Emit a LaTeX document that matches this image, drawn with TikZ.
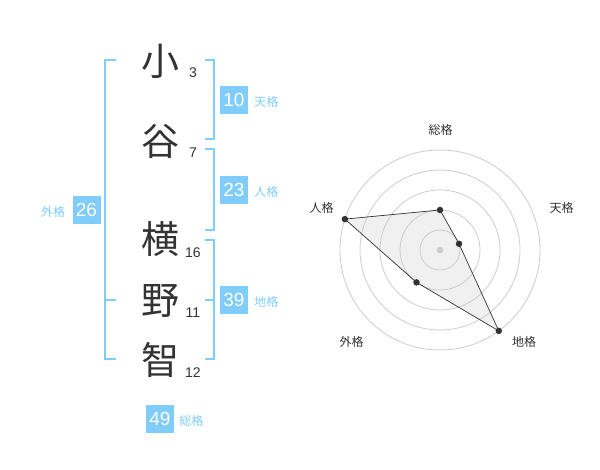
\documentclass[tikz,border=0pt]{standalone}
\usepackage{fontspec}
\setmainfont{Liberation Sans}
\newfontfamily\jpfont{Noto Sans CJK JP}
\usetikzlibrary{positioning}
\definecolor{kakublue}{HTML}{80CCFA}
\definecolor{inkgray}{HTML}{333333}
\definecolor{ringgray}{HTML}{CCCCCC}
\definecolor{areagray}{HTML}{F0F0F0}

\begin{document}
\begin{tikzpicture}[x=1pt, y=-1pt]
  \tikzset{
    kanji/.style={inner sep=0pt, text=inkgray, font=\jpfont\fontsize{38}{38}\selectfont},
    strokes/.style={inner sep=0pt, text=inkgray, font=\fontsize{14}{14}\selectfont},
    score/.style={fill=kakublue, text=white, minimum size=28pt, inner sep=0pt, font=\fontsize{19}{19}\selectfont},
    kaku/.style={inner sep=0pt, text=kakublue, font=\jpfont\fontsize{12}{12}\selectfont},
    bracket/.style={draw=kakublue, line width=2pt, line join=miter},
    ring/.style={draw=ringgray, line width=0.8pt},
    axis/.style={inner sep=0pt, text=inkgray, font=\jpfont\fontsize{12}{12}\selectfont},
    dot/.style={circle, fill=inkgray, inner sep=0pt, minimum size=6.5pt}
  }
  \useasboundingbox (0,0) rectangle (600,470);
  % name and strokes
  \foreach \ch/\y/\n/\ny/\nm in {小/61/3/72.7/a, 谷/141/7/152.7/b, 横/239/16/252.3/c, 野/301/11/312.7/d, 智/360/12/372.7/e} {
    \node[kanji] (k\nm) at (160,\y) {\ch};
    \node[strokes] (s\nm) at (193,\ny) {\n};
  }
  % brackets
  \draw[bracket] (116,60) -- (105,60) -- (105,359) -- (116,359);
  \draw[bracket] (105,300) -- (116,300);
  \draw[bracket] (205,60) -- (214,60) -- (214,139) -- (205,139);
  \draw[bracket] (205,149) -- (214,149) -- (214,230) -- (205,230);
  \draw[bracket] (205,240) -- (214,240) -- (214,359) -- (205,359);
  \draw[bracket] (205,300) -- (214,300);
  % scores
  \node[score] (ten) at (234,100) {10};
  \node[kaku, anchor=base west] (tenl) at ([xshift=6pt]ten.base east) {天格};
  \node[score] (jin) at (234,190) {23};
  \node[kaku, anchor=base west] (jinl) at ([xshift=6pt]jin.base east) {人格};
  \node[score] (chi) at (234,300) {39};
  \node[kaku, anchor=base west] (chil) at ([xshift=6pt]chi.base east) {地格};
  \node[score] (gai) at (86.5,210) {26};
  \node[kaku, anchor=base east] (gail) at ([xshift=-7pt]gai.base west) {外格};
  \node[score] (so) at (160,419) {49};
  \node[kaku, anchor=base west] (sol) at ([xshift=5pt]so.base east) {総格};
  % radar
  \coordinate (c) at (440,250);
  \foreach \a/\r/\nm in {-90/40/so, -18/20/ten, 54/100/chi, 126/40/gai, 198/100/jin}
    \coordinate (v\nm) at ([shift={(\a:\r)}]c);
  \fill[areagray] (vso) -- (vten) -- (vchi) -- (vgai) -- (vjin) -- cycle;
  \foreach \r in {20,40,...,100}
    \draw[ring] (c) circle (\r);
  \fill[ringgray] (c) circle (3.3);
  \draw[inkgray, line width=0.7pt] (vso) -- (vten) -- (vchi) -- (vgai) -- (vjin) -- cycle;
  \foreach \nm in {so, ten, chi, gai, jin}
    \node[dot] (d\nm) at (v\nm) {};
  \node[axis] (lso) at (440.7,130) {総格};
  \node[axis] (lten) at (561.7,208.3) {天格};
  \node[axis] (lchi) at (524,341.7) {地格};
  \node[axis] (lgai) at (351.7,341.7) {外格};
  \node[axis] (ljin) at (321.7,208.3) {人格};
\end{tikzpicture}
\end{document}
